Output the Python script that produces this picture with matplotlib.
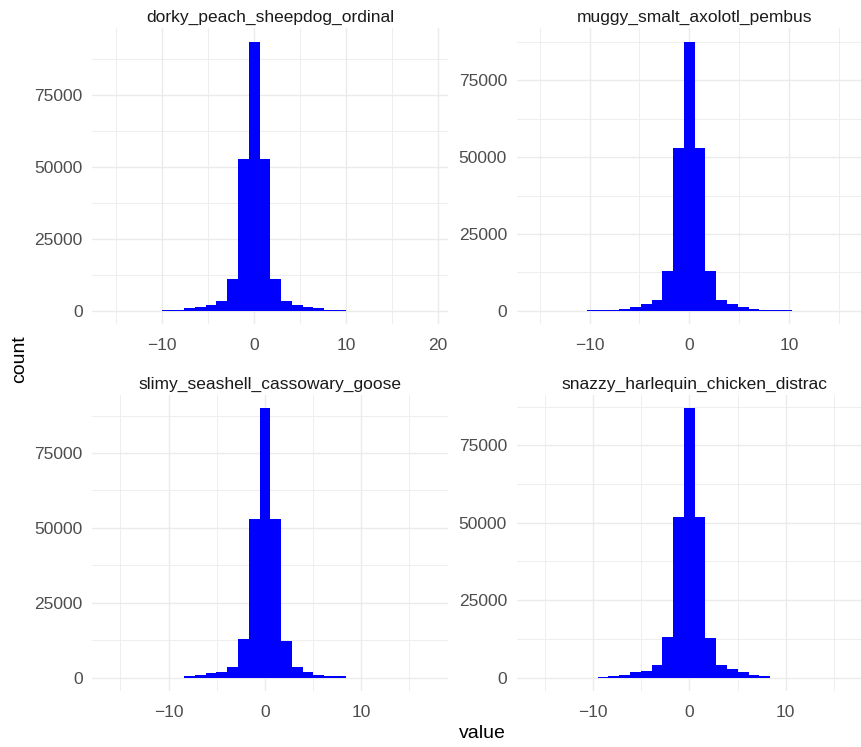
import numpy as np
import matplotlib
matplotlib.use("Agg")
import matplotlib.pyplot as plt
from matplotlib.ticker import FixedLocator

# ---- data: 30-bin histograms, bins centred on multiples of the bin width ----
titles = [
    "dorky_peach_sheepdog_ordinal",
    "muggy_smalt_axolotl_pembus",
    "slimy_seashell_cassowary_goose",
    "snazzy_harlequin_chicken_distrac",
]
bin_widths = [1.175, 1.082, 1.12, 1.118]
first_bin = [-13, -14, -14, -14]   # index of the leftmost bin (centre = index * width)

counts_dorky = [1, 1, 2, 2, 3, 300, 420, 930, 1500, 1970, 3470, 11230, 52660,
                93500, 52660, 11230, 3470, 1970, 1450, 930, 420, 300, 3, 2, 2,
                1, 1, 1, 1, 1]
counts_muggy = [1, 1, 2, 2, 3, 320, 320, 330, 760, 1400, 2160, 3570, 13100, 53000,
                87600, 53000, 13100, 3570, 2160, 1400, 760, 330, 320, 300, 3,
                2, 2, 1, 1, 1]
counts_slimy = [1, 1, 1, 2, 2, 3, 3, 450, 890, 1450, 1900, 3460, 12720, 53100,
                89900, 53100, 12160, 3460, 1900, 890, 450, 450, 3, 3, 2, 2,
                1, 1, 1, 1]
counts_snazzy = [1, 1, 1, 2, 2, 3, 320, 540, 970, 1830, 2260, 4090, 13040, 51700,
                 86900, 51700, 12610, 4090, 2690, 1720, 860, 430, 3, 3, 2, 2,
                 1, 1, 1, 1]
all_counts = [counts_dorky, counts_muggy, counts_slimy, counts_snazzy]

y_ticks = [0, 25000, 50000, 75000]
y_minor = [12500, 37500, 62500, 87500]
x_ticks = [-10, 0, 10, 20]
x_minor = [-15, -5, 5, 15]

FONT = "Liberation Sans"
GRID = "#EBEBEB"
TICK_COL = "#4D4D4D"
STRIP_COL = "#1A1A1A"

W, H = 862, 747
fig = plt.figure(figsize=(W / 100, H / 100), dpi=100, facecolor="white")

# panel boxes in pixels (left, top); panels are 356 x 296, the right column
# runs slightly past the image edge like in the reference
lefts = [92.3, 516.7, 92.3, 516.7]
tops = [28.3, 28.3, 395.0, 395.0]
pw, ph = 356.0, 296.0

for i in range(4):
    ax = fig.add_axes([lefts[i] / W, 1 - (tops[i] + ph) / H, pw / W, ph / H])
    w = bin_widths[i]
    cnt = np.array(all_counts[i])
    centers = (first_bin[i] + np.arange(len(cnt))) * w
    ax.bar(centers, cnt, width=w, color="blue", linewidth=0, zorder=3)

    lo, hi = centers[0] - w / 2, centers[-1] + w / 2
    span = hi - lo
    ax.set_xlim(lo - 0.05 * span, hi + 0.05 * span)
    ymax = cnt.max()
    ax.set_ylim(-0.05 * ymax, 1.05 * ymax)

    ax.xaxis.set_major_locator(FixedLocator(x_ticks))
    ax.xaxis.set_minor_locator(FixedLocator(x_minor))
    ax.yaxis.set_major_locator(FixedLocator(y_ticks))
    ax.yaxis.set_minor_locator(FixedLocator(y_minor))
    ax.grid(True, which="major", color=GRID, linewidth=1.0, zorder=0)
    ax.grid(True, which="minor", color=GRID, linewidth=0.6, zorder=0)
    ax.set_axisbelow(True)
    for s in ax.spines.values():
        s.set_visible(False)
    ax.tick_params(which="both", length=0)
    ax.tick_params(axis="x", pad=10, labelsize=12.5, labelcolor=TICK_COL)
    ax.tick_params(axis="y", pad=7, labelsize=12.5, labelcolor=TICK_COL)
    for lab in ax.get_xticklabels() + ax.get_yticklabels():
        lab.set_fontfamily(FONT)

    fig.text((lefts[i] + pw / 2) / W, 1 - (tops[i] - 11) / H, titles[i],
             ha="center", va="center", fontsize=12.5, color=STRIP_COL,
             family=FONT)

fig.text(20 / W, 1 - 359 / H, "count", rotation=90, ha="center", va="center",
         fontsize=14, color="black", family=FONT)
fig.text(482.5 / W, 1 - 733 / H, "value", ha="center", va="center",
         fontsize=14, color="black", family=FONT)

fig.savefig("out.png", dpi=100, facecolor="white")
